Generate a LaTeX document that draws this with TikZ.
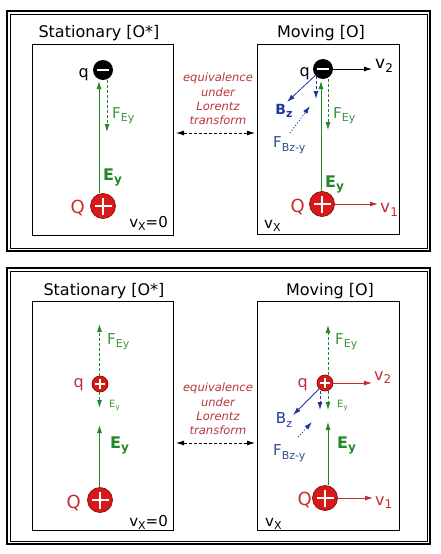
\documentclass[tikz,border=0pt]{standalone}
\usepackage{fontspec}
\setmainfont{DejaVu Sans}
\usetikzlibrary{arrows.meta,calc}
\definecolor{fgreen}{RGB}{35,135,35}
\definecolor{lgreen}{RGB}{60,150,60}
\definecolor{chred}{RGB}{215,25,25}
\definecolor{chedge}{RGB}{140,10,10}
\definecolor{lred}{RGB}{200,45,45}
\definecolor{itred}{RGB}{185,55,60}
\definecolor{dblue}{RGB}{30,55,160}
\definecolor{lblue}{RGB}{50,80,150}
\newcommand{\fs}[1]{\fontsize{#1}{#1}\selectfont}
\newcommand{\lsub}[2][11]{\raisebox{-0.45ex}{\fs{#1}#2}}
\tikzset{
  frameout/.style={draw=black,line width=1.2pt},
  framein/.style={draw=black,line width=0.8pt},
  panel/.style={draw=black,line width=0.9pt},
  title/.style={font=\fs{16},inner sep=0pt,anchor=base},
  lab/.style={inner sep=0pt,font=\fs{15}},
  plusball/.style={circle,fill=chred,draw=chedge,line width=0.7pt,inner sep=0pt,minimum size=#1,
    path picture={
      \draw[white,line width=0.08*#1]
        ($(path picture bounding box.center)+(-0.34*#1,0pt)$) -- ($(path picture bounding box.center)+(0.34*#1,0pt)$)
        ($(path picture bounding box.center)+(0pt,-0.34*#1)$) -- ($(path picture bounding box.center)+(0pt,0.34*#1)$);}},
  minusball/.style={circle,fill=black,inner sep=0pt,minimum size=#1,
    path picture={
      \draw[white,line width=1.3pt]
        ($(path picture bounding box.center)+(-0.32*#1,0pt)$) -- ($(path picture bounding box.center)+(0.32*#1,0pt)$);}},
  tipa/.style={-{Latex[length=8pt,width=5pt]}},
  gsolid/.style={fgreen,line width=0.9pt,tipa},
  gdash/.style={fgreen,line width=0.9pt,dash pattern=on 3pt off 2pt,tipa},
  bdash/.style={dblue,line width=0.9pt,dash pattern=on 3pt off 2pt,tipa},
  bsolid/.style={dblue,line width=0.8pt,tipa},
  bdot/.style={dblue,line width=0.9pt,dash pattern=on 1pt off 2pt,tipa},
  vblack/.style={black,line width=0.8pt,tipa},
  vred/.style={lred,line width=0.9pt,tipa},
  midarrow/.style={black,line width=0.8pt,dash pattern=on 3pt off 2pt,{Latex[length=8pt,width=5pt]}-{Latex[length=8pt,width=5pt]}},
}
\begin{document}
\begin{tikzpicture}[x=1pt,y=-1pt]
\useasboundingbox (0,0) rectangle (441,554);
\fill[white] (0,0) rectangle (441,554);

% ================= TOP PANEL =================
\draw[frameout] (7,11) rectangle (430,251);
\draw[framein] (10,14) rectangle (427,248);
\draw[panel] (32,44) rectangle (173,235);
\draw[panel] (257,44) rectangle (399,234);
\node[title] (t1) at (99,37) {Stationary [O*]};
\node[title] (t2) at (321,37) {Moving [O]};

% top-left
\node[minusball=20pt] (q1) at (103,70) {};
\node[plusball=25pt] (Q1) at (103,206) {};
\coordinate (g1) at (99,81);
\coordinate (d1) at (107,132);
\draw[gsolid] (g1 |- Q1.north) -- (g1);
\draw[gdash] (d1 |- q1.south) -- (d1);
\node[lab,anchor=base east,font=\fs{16}] (lq1) at (89,77) {q};
\node[lab,anchor=base east,font=\fs{18},text=lred] (lQ1) at (85,213) {Q};
\node[lab,anchor=base west,text=lgreen] (lf1) at (112,118) {F\lsub{Ey}};
\node[lab,anchor=base west,text=fgreen,font=\fs{16}\bfseries] (le1) at (103,180) {E\lsub[12]{\bfseries y}};
\node[lab,anchor=base east] (lv1) at (168,227) {v\lsub[11]{X}=0};

% middle
\node[inner sep=0pt,align=center,text=itred,font=\fontsize{11.5}{14.3}\selectfont\itshape] (eq1) at (218,99) {equivalence\\under\\Lorentz\\transform};
\coordinate (ml1) at (176,133);
\coordinate (mr1) at (255,133);
\draw[midarrow] (ml1) -- (mr1);

% top-right
\node[minusball=20pt] (q2) at (323,69) {};
\node[plusball=25pt] (Q2) at (322,204) {};
\coordinate (g2) at (321,81);
\coordinate (d2) at (328,130);
\coordinate (b2) at (316,99);
\draw[gsolid] (g2 |- Q2.north) -- (g2);
\draw[gdash] (d2 |- q2.south) -- (d2);
\draw[bdash] (b2 |- q2.225) -- (b2);
\coordinate (bz2) at (287,102);
\draw[bsolid] (q2.220) -- (bz2);
\coordinate (fs2) at (290,133);
\coordinate (fe2) at (310,106);
\draw[bdot] (fs2) -- (fe2);
\coordinate (v2e) at (372,69);
\draw[vblack] (q2.east) -- (v2e);
\coordinate (v1e) at (378,204);
\draw[vred] (Q2.east) -- (v1e);
\node[lab,anchor=base west,font=\fs{17}] (lv2) at (375,68) {v\lsub[12]{2}};
\node[lab,anchor=base west,font=\fs{17},text=lred] (lv12) at (380,212) {v\lsub[12]{1}};
\node[lab,anchor=base east,font=\fs{16}] (lq2) at (310,76) {q};
\node[lab,anchor=base east,font=\fs{18},text=lred] (lQ2) at (305,212) {Q};
\node[lab,anchor=base west,text=lgreen] (lf2) at (333,118) {F\lsub{Ey}};
\node[lab,anchor=base west,text=fgreen,font=\fs{16}\bfseries] (le2) at (325,187) {E\lsub[12]{\bfseries y}};
\node[lab,text=dblue,font=\fs{14}\bfseries] (lb2) at (284,111) {B\lsub[11]{\bfseries z}};
\node[lab,anchor=west,text=lblue] (lfb2) at (273,145) {F\lsub{Bz-y}};
\node[lab,anchor=base west] (lvx2) at (264,228) {v\lsub[11]{X}};

% ================= BOTTOM PANEL =================
\draw[frameout] (7,268) rectangle (430,544);
\draw[framein] (10,271) rectangle (427,541);
\draw[panel] (32,301) rectangle (173,530);
\draw[panel] (257,301) rectangle (399,530);
\node[title] (t3) at (104,295) {Stationary [O*]};
\node[title] (t4) at (330,295) {Moving [O]};

% bottom-left
\node[plusball=16pt] (q3) at (100,384) {};
\node[plusball=25pt] (Q3) at (100,500) {};
\coordinate (g3) at (99.5,425);
\coordinate (d3) at (99.5,408);
\coordinate (u3) at (99.5,324);
\draw[gsolid] (g3 |- Q3.north) -- (g3);
\draw[gdash] (d3 |- q3.south) -- (d3);
\draw[gdash] (u3 |- q3.north) -- (u3);
\node[lab,anchor=base west,text=lgreen] (lf3) at (107,344) {F\lsub{Ey}};
\node[lab,anchor=base west,text=lgreen,font=\fs{10}] (ls3) at (109,407) {E\lsub[7]{y}};
\node[lab,anchor=base west,text=fgreen,font=\fs{16}\bfseries] (le3) at (110,448) {E\lsub[12]{\bfseries y}};
\node[lab,anchor=base east,font=\fs{16},text=lred] (lq3) at (84,387) {q};
\node[lab,anchor=base east,font=\fs{18},text=lred] (lQ3) at (81,508) {Q};
\node[lab,anchor=base east] (lv3) at (168,526) {v\lsub[11]{X}=0};

% middle
\node[inner sep=0pt,align=center,text=itred,font=\fontsize{11.5}{14.3}\selectfont\itshape] (eq2) at (218,409) {equivalence\\under\\Lorentz\\transform};
\coordinate (ml2) at (176,443);
\coordinate (mr2) at (255,443);
\draw[midarrow] (ml2) -- (mr2);

% bottom-right
\node[plusball=16pt] (q4) at (325,383) {};
\node[plusball=25pt] (Q4) at (325,498) {};
\coordinate (g4) at (328,422);
\coordinate (d4) at (328,410);
\coordinate (u4) at (328,325);
\coordinate (b4) at (320,410);
\draw[gsolid] (g4 |- Q4.north) -- (g4);
\draw[gdash] (d4 |- q4.south) -- (d4);
\draw[gdash] (u4 |- q4.north) -- (u4);
\draw[bdash] (b4 |- q4.south) -- (b4);
\coordinate (bz4) at (293,415);
\draw[bsolid] (q4.225) -- (bz4);
\coordinate (fs4) at (298,437);
\coordinate (fe4) at (312,422);
\draw[bdot] (fs4) -- (fe4);
\coordinate (v2e4) at (372,383);
\draw[vred] (q4.east) -- (v2e4);
\coordinate (v1e4) at (373,498);
\draw[vred] (Q4.east) -- (v1e4);
\node[lab,anchor=base west,font=\fs{16},text=lred] (lv24) at (374,380) {v\lsub[12]{2}};
\node[lab,anchor=base west,font=\fs{16},text=lred] (lv14) at (375,505) {v\lsub[12]{1}};
\node[lab,anchor=base east,font=\fs{16},text=lred] (lq4) at (308,387) {q};
\node[lab,anchor=base east,font=\fs{18},text=lred] (lQ4) at (312,505) {Q};
\node[lab,anchor=base west,text=lgreen] (lf4) at (335,344) {F\lsub{Ey}};
\node[lab,anchor=base west,text=lgreen,font=\fs{10}] (ls4) at (337,407) {E\lsub[7]{y}};
\node[lab,anchor=base west,text=fgreen,font=\fs{16}\bfseries] (le4) at (337,448) {E\lsub[12]{\bfseries y}};
\node[lab,text=dblue,font=\fs{15}] (lb4) at (284,420) {B\lsub[11]{z}};
\node[lab,anchor=west,text=lblue] (lfb4) at (273,453) {F\lsub{Bz-y}};
\node[lab,anchor=base west] (lvx4) at (265,526) {v\lsub[11]{X}};
\end{tikzpicture}
\end{document}
